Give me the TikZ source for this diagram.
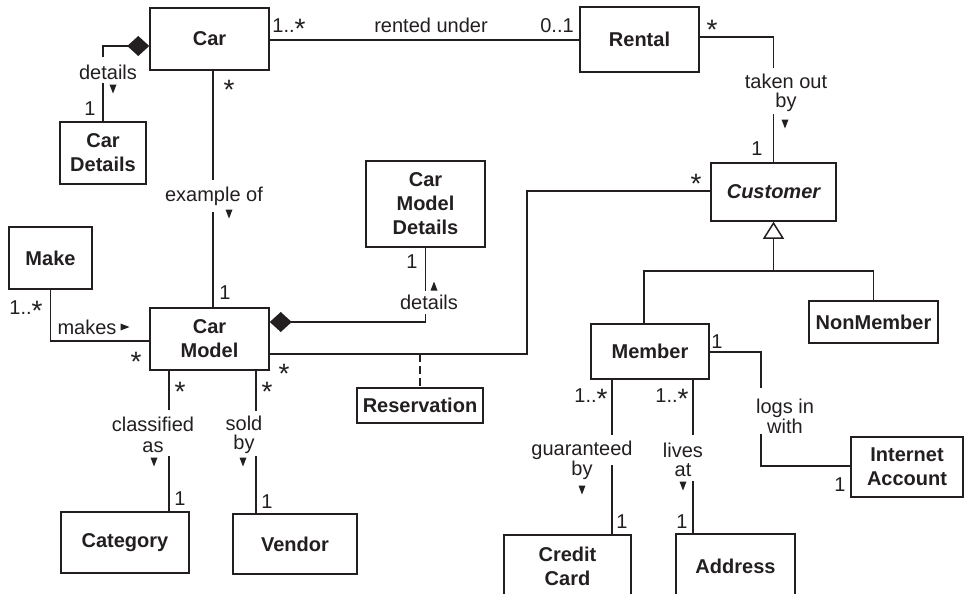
\documentclass[tikz,border=0pt]{standalone}
\usepackage{fontspec}
\setmainfont{Liberation Sans}
\usetikzlibrary{arrows.meta}
\definecolor{ink}{HTML}{231F20}
\newcommand\mstar{\raisebox{-3pt}{\fontsize{14}{14}\selectfont *}}
\tikzset{
  pics/dn/.style={code={\fill (-3.5,-4.5) -- (3.5,-4.5) -- (0,4.5) -- cycle;}},
  pics/upa/.style={code={\fill (-3.5,4.5) -- (3.5,4.5) -- (0,-4.5) -- cycle;}},
  pics/rt/.style={code={\fill (-4.5,-3.5) -- (-4.5,3.5) -- (4.5,0) -- cycle;}},
}
\begin{document}
\begin{tikzpicture}[x=0.5pt,y=-0.5pt, line width=0.75pt, color=ink,
  cls/.style={draw, inner sep=0pt, font=\bfseries, align=center},
  lab/.style={inner sep=0pt, text height=7.2pt, text depth=0pt},
  comp/.style={{Diamond[length=11pt,width=10pt]}-},
  gen/.style={-{Triangle[open,length=8.5pt,width=10.5pt]}},
  dep/.style={dash pattern=on 4pt off 2pt}]
\useasboundingbox (0,0) rectangle (965,594);
\clip (0,0) rectangle (965,594);

% classes
\node[cls, minimum width=59.5pt, minimum height=31pt] (car) at (209.5,39) {Car};
\node[cls, minimum width=43pt, minimum height=31pt] (cardet) at (103,153) {Car\\Details};
\node[cls, minimum width=59.5pt, minimum height=32.5pt] (rental) at (639.5,39.5) {Rental};
\node[cls, minimum width=62.5pt, minimum height=29pt, font=\bfseries\itshape] (customer) at (773.5,192) {Customer};
\node[cls, minimum width=64.5pt, minimum height=21pt] (nonmember) at (873.5,322) {NonMember};
\node[cls, minimum width=59pt, minimum height=27.5pt] (member) at (650,351.5) {Member};
\node[cls, minimum width=56pt, minimum height=30pt] (internet) at (907,467) {Internet\\Account};
\node[cls, minimum width=63.5pt, minimum height=31pt] (credit) at (567.5,566) {Credit\\Card};
\node[cls, minimum width=59.5pt, minimum height=32pt] (address) at (735.5,566) {Address};
\node[cls, minimum width=59.5pt, minimum height=31pt] (carmodel) at (209.5,339) {Car\\Model};
\node[cls, minimum width=41.5pt, minimum height=31pt] (make) at (50.5,258) {Make};
\node[cls, minimum width=59.5pt, minimum height=43pt] (cmdet) at (425.5,204) {Car\\Model\\Details};
\node[cls, minimum width=63pt, minimum height=17.5pt] (reservation) at (420,405.5) {Reservation};
\node[cls, minimum width=64pt, minimum height=30.5pt] (category) at (125,542.5) {Category};
\node[cls, minimum width=62pt, minimum height=30pt] (vendor) at (295,544) {Vendor};

% connectors
\draw[comp] (car.west |- 0,46) -| (cardet.north |- 0,57);
\draw (cardet.north |- 0,83) -- (cardet.north);
\draw (car.east |- 0,40) -- (rental.west |- 0,40);
\draw (rental.east |- 0,37) -| (customer.north |- 0,68);
\draw (customer.north |- 0,114) -- (customer.north);
\draw (car.south -| 213,0) -- (213,180);
\draw (213,212) -- (carmodel.north -| 213,0);
\draw (make.south) |- (carmodel.west |- 0,341);
\draw[comp] (carmodel.east |- 0,322) -| (cmdet.south |- 0,314);
\draw (cmdet.south |- 0,291) -- (cmdet.south);
\draw (carmodel.east |- 0,354) -| (527,191) -- (customer.west |- 0,191);
\draw[dep] (reservation.north |- 0,354) -- (reservation.north);
\draw[gen] (customer.south |- 0,271) -- (customer.south);
\draw (member.north -| 644,0) |- (nonmember.north |- 0,271) -- (nonmember.north);
\draw (member.east |- 0,352) -| (761,388);
\draw (761,434) |- (internet.west |- 0,466);
\draw (member.south -| 612,0) -- (612,435);
\draw (612,465) -- (credit.north -| 612,0);
\draw (member.south -| 693,0) -- (693,435);
\draw (693,481) -- (address.north -| 693,0);
\draw (carmodel.south -| 169,0) -- (169,410);
\draw (169,456) -- (category.north -| 169,0);
\draw (carmodel.south -| 256,0) -- (256,411);
\draw (256,456) -- (vendor.north -| 256,0);

% labels
\node[lab] (l1) at (108,72) {details};
\pic at (113,89) {dn};
\node[lab] (m1) at (90,108) {1};
\node[lab] (m2) at (289,25) {1..\mstar};
\node[lab] (m3) at (229,86) {\mstar};
\node[lab] (l2) at (431,25) {rented under};
\node[lab] (m4) at (557,25) {0..1};
\node[lab] (m5) at (712,26) {\mstar};
\node[lab] (l3a) at (786,81) {taken out};
\node[lab] (l3b) at (786,100) {by};
\pic at (785,124) {dn};
\node[lab] (m6) at (757,148) {1};
\node[lab] (m7) at (696,180) {\mstar};
\node[lab] (l4) at (214,194) {example of};
\pic at (229,214) {dn};
\node[lab] (m8) at (225,292) {1};
\node[lab] (m9) at (26,307) {1..\mstar};
\node[lab] (l5) at (87,327) {makes};
\pic at (125,327) {rt};
\node[lab] (m10) at (136,358) {\mstar};
\node[lab] (m11) at (284,370) {\mstar};
\node[lab] (m12) at (180,388) {\mstar};
\node[lab] (m13) at (267,388) {\mstar};
\node[lab] (m14) at (412,261) {1};
\pic at (434,286) {upa};
\node[lab] (l6) at (429,302) {details};
\node[lab] (l7a) at (153,424) {classified};
\node[lab] (l7b) at (153,445) {as};
\pic at (154,462) {dn};
\node[lab] (m15) at (180,498) {1};
\node[lab] (l8a) at (244,423) {sold};
\node[lab] (l8b) at (244,442) {by};
\pic at (243,462) {dn};
\node[lab] (m16) at (267,501) {1};
\node[lab] (m17) at (717,341) {1};
\node[lab] (m18) at (591,395) {1..\mstar};
\node[lab] (m19) at (672,395) {1..\mstar};
\node[lab] (l9a) at (785,406) {logs in};
\node[lab] (l9b) at (785,426) {with};
\node[lab] (l10a) at (582,448) {guaranteed};
\node[lab] (l10b) at (582,468) {by};
\pic at (582,490) {dn};
\node[lab] (m20) at (622,521) {1};
\node[lab] (l11a) at (683,450) {lives};
\node[lab] (l11b) at (683,469) {at};
\pic at (683,486) {dn};
\node[lab] (m21) at (682,521) {1};
\node[lab] (m22) at (840,484) {1};
\end{tikzpicture}
\end{document}
